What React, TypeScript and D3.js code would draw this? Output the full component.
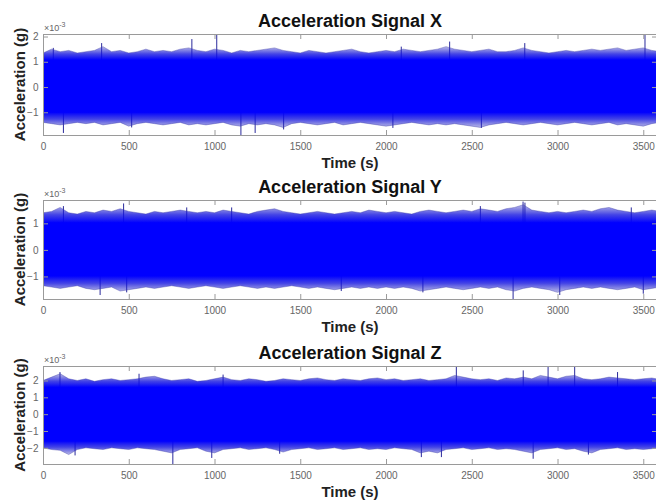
import React, { useEffect, useRef } from 'react';
import * as d3 from 'd3';

// envelope readings are taken every 50 s, values in 1e-3 g
const step = 50;

const titles = ['Acceleration Signal X', 'Acceleration Signal Y', 'Acceleration Signal Z'];
const timeTicks = [0, 500, 1000, 1500, 2000, 2500, 3000, 3500];

// signal X
const xUpper = [1.35, 1.5, 1.4, 1.45, 1.35, 1.4, 1.45, 1.6, 1.4, 1.45, 1.35, 1.4, 1.5, 1.4, 1.45, 1.4, 1.5, 1.55, 1.45, 1.4,
  1.5, 1.45, 1.35, 1.45, 1.4, 1.45, 1.5, 1.55, 1.45, 1.4, 1.35, 1.45, 1.4, 1.35, 1.4, 1.45, 1.5, 1.4, 1.35, 1.4,
  1.45, 1.4, 1.5, 1.45, 1.4, 1.45, 1.5, 1.6, 1.5, 1.45, 1.4, 1.45, 1.5, 1.4, 1.4, 1.45, 1.55, 1.45, 1.4, 1.35,
  1.4, 1.45, 1.4, 1.45, 1.5, 1.45, 1.5, 1.55, 1.45, 1.5, 1.55, 1.45, 1.4];
const xLower = [-1.4, -1.45, -1.5, -1.45, -1.4, -1.45, -1.4, -1.5, -1.45, -1.4, -1.55, -1.45, -1.4, -1.45, -1.5, -1.45, -1.4, -1.5, -1.45, -1.5,
  -1.45, -1.4, -1.5, -1.55, -1.45, -1.5, -1.45, -1.5, -1.6, -1.45, -1.4, -1.45, -1.5, -1.45, -1.4, -1.5, -1.45, -1.4, -1.45, -1.5,
  -1.55, -1.5, -1.45, -1.4, -1.45, -1.5, -1.45, -1.5, -1.45, -1.5, -1.55, -1.6, -1.5, -1.45, -1.4, -1.45, -1.5, -1.45, -1.4, -1.45,
  -1.5, -1.45, -1.4, -1.45, -1.5, -1.45, -1.4, -1.5, -1.45, -1.5, -1.55, -1.45, -1.4];
const xCore = [-1.0, 1.07];
const xSpikes = [[60, 1.55], [342, 1.74], [868, 1.9], [1013, 2.1], [2089, 1.6], [2371, 1.8], [2809, 1.74], [3510, 2.1],
  [119, -1.82], [517, -1.6], [1154, -1.9], [1237, -1.82], [1403, -1.68], [2040, -1.62], [2556, -1.62]];
const xYTicks = [-1, 0, 1, 2];

// signal Y
const yUpper = [1.4, 1.45, 1.6, 1.4, 1.35, 1.45, 1.4, 1.5, 1.45, 1.55, 1.45, 1.4, 1.35, 1.45, 1.4, 1.45, 1.5, 1.45, 1.4, 1.45,
  1.4, 1.5, 1.45, 1.4, 1.35, 1.45, 1.5, 1.55, 1.45, 1.4, 1.35, 1.4, 1.45, 1.4, 1.35, 1.4, 1.45, 1.4, 1.5, 1.45,
  1.4, 1.45, 1.4, 1.35, 1.45, 1.5, 1.45, 1.4, 1.45, 1.5, 1.45, 1.55, 1.5, 1.45, 1.55, 1.6, 1.7, 1.5, 1.45, 1.4,
  1.45, 1.4, 1.45, 1.5, 1.45, 1.55, 1.6, 1.5, 1.45, 1.4, 1.45, 1.5, 1.45];
const yLower = [-1.35, -1.4, -1.45, -1.4, -1.35, -1.45, -1.5, -1.45, -1.4, -1.55, -1.5, -1.45, -1.4, -1.45, -1.4, -1.35, -1.4, -1.45, -1.4, -1.35,
  -1.4, -1.45, -1.4, -1.35, -1.4, -1.45, -1.4, -1.45, -1.4, -1.35, -1.4, -1.45, -1.4, -1.45, -1.5, -1.45, -1.4, -1.45, -1.4, -1.45,
  -1.4, -1.45, -1.4, -1.45, -1.55, -1.5, -1.45, -1.4, -1.45, -1.5, -1.45, -1.4, -1.45, -1.4, -1.5, -1.55, -1.45, -1.4, -1.45, -1.5,
  -1.6, -1.5, -1.45, -1.4, -1.45, -1.4, -1.45, -1.5, -1.45, -1.4, -1.5, -1.45, -1.4];
const yCore = [-0.98, 1.02];
const ySpikes = [[119, 1.65], [470, 1.75], [838, 1.6], [1100, 1.6], [2550, 1.65], [2799, 1.82], [2810, 1.78], [3430, 1.6],
  [333, -1.7], [488, -1.6], [1739, -1.55], [2215, -1.6], [2741, -1.85], [3013, -1.7], [3500, -1.65]];
const yYTicks = [-1, 0, 1];

// signal Z
const zUpper = [2.0, 2.2, 2.4, 2.1, 2.0, 2.1, 1.95, 2.05, 2.1, 2.0, 2.05, 2.1, 2.2, 2.25, 2.1, 2.0, 2.05, 2.1, 1.95, 2.0,
  2.1, 2.2, 2.05, 2.0, 2.1, 2.05, 1.95, 2.0, 2.1, 2.05, 2.0, 2.1, 2.15, 2.05, 2.0, 2.1, 2.05, 2.0, 2.1, 2.15,
  2.05, 2.1, 2.0, 2.05, 2.1, 2.0, 2.05, 2.1, 2.3, 2.2, 2.1, 2.05, 2.1, 2.0, 2.15, 2.1, 2.2, 2.1, 2.3, 2.2,
  2.1, 2.25, 2.3, 2.1, 2.05, 2.1, 2.2, 2.15, 2.1, 2.05, 2.1, 2.15, 2.05];
const zLower = [-2.0, -2.1, -2.15, -2.4, -2.1, -2.0, -2.05, -2.1, -2.0, -2.05, -2.1, -2.0, -2.05, -2.1, -2.2, -2.3, -2.1, -2.05, -2.0, -2.2,
  -2.3, -2.1, -2.05, -2.0, -2.1, -2.05, -2.0, -2.1, -2.25, -2.1, -2.05, -2.0, -2.1, -2.05, -2.0, -2.1, -2.05, -2.0, -2.1, -2.05,
  -2.1, -2.0, -2.05, -2.1, -2.3, -2.2, -2.3, -2.1, -2.05, -2.0, -2.1, -2.05, -2.0, -2.1, -2.05, -2.1, -2.2, -2.3, -2.1, -2.05,
  -2.0, -2.1, -2.05, -2.2, -2.3, -2.1, -2.05, -2.0, -2.1, -2.05, -2.1, -2.05, -2.0];
const zCore = [-1.6, 1.6];
const zSpikes = [[99, 2.5], [560, 2.4], [1050, 2.35], [2410, 2.8], [2800, 2.6], [2945, 2.8], [3100, 2.86], [3350, 2.5],
  [187, -2.45], [757, -2.96], [984, -2.6], [1380, -2.35], [2206, -2.55], [2323, -2.55], [2858, -2.65], [3180, -2.4]];
const zYTicks = [-2, -1, 0, 1, 2];

const panels = [
  { title: titles[0], upper: xUpper, lower: xLower, core: xCore, spikes: xSpikes, ticks: xYTicks, ylim: [-1.9, 2.1], top: 34, bottom: 135 },
  { title: titles[1], upper: yUpper, lower: yLower, core: yCore, spikes: ySpikes, ticks: yYTicks, ylim: [-1.85, 1.88], top: 200, bottom: 299 },
  { title: titles[2], upper: zUpper, lower: zLower, core: zCore, spikes: zSpikes, ticks: zYTicks, ylim: [-2.96, 2.86], top: 366, bottom: 464 },
];

const font = '"Liberation Sans", Arial, Helvetica, sans-serif';

export default function App() {
  const ref = useRef<SVGSVGElement>(null);

  useEffect(() => {
    const svg = d3.select(ref.current);
    svg.selectAll('*').remove();
    const left = 43, right = 657;
    const defs = svg.append('defs');

    panels.forEach((p, i) => {
      const x = d3.scaleLinear().domain([0, 3580]).range([left, right]);
      const y = d3.scaleLinear().domain(p.ylim).range([p.bottom, p.top]);
      const times = p.upper.map((_, k) => k * step);

      defs.append('clipPath').attr('id', 'clip' + i)
        .append('rect').attr('x', left).attr('y', p.top)
        .attr('width', right - left).attr('height', p.bottom - p.top);

      // fringe fades out from the solid core towards the envelope
      const fade = (id: string, from: number, to: number) => {
        const gr = defs.append('linearGradient').attr('id', id)
          .attr('gradientUnits', 'userSpaceOnUse')
          .attr('x1', 0).attr('x2', 0).attr('y1', y(from)).attr('y2', y(to));
        gr.append('stop').attr('offset', 0).attr('stop-color', '#0000ff').attr('stop-opacity', 1);
        gr.append('stop').attr('offset', 0.45).attr('stop-color', '#1515e0').attr('stop-opacity', 0.8);
        gr.append('stop').attr('offset', 1).attr('stop-color', '#3434c0').attr('stop-opacity', 0.35);
      };
      const topMax = d3.max(p.upper) as number;
      const botMin = d3.min(p.lower) as number;
      fade('fadeUp' + i, p.core[1], topMax);
      fade('fadeDown' + i, p.core[0], botMin);

      const plot = svg.append('g').attr('clip-path', `url(#clip${i})`);

      // spikes from the band edge to their peak
      plot.append('path')
        .attr('d', p.spikes.map(s => `M${x(s[0])},${y(s[1] > 0 ? p.core[1] : p.core[0])}V${y(s[1])}`).join(''))
        .attr('stroke', '#2a2a9c')
        .attr('stroke-width', 1)
        .attr('fill', 'none');

      const upArea = d3.area<number>()
        .x((_, k) => x(times[k]))
        .y0(y(0))
        .y1(d => y(d));
      const downArea = d3.area<number>()
        .x((_, k) => x(times[k]))
        .y0(y(0))
        .y1(d => y(d));
      const edge = d3.line<number>()
        .x((_, k) => x(times[k]))
        .y(d => y(d));

      plot.append('path').datum(p.upper).attr('d', upArea).attr('fill', `url(#fadeUp${i})`);
      plot.append('path').datum(p.lower).attr('d', downArea).attr('fill', `url(#fadeDown${i})`);
      [p.upper, p.lower].forEach(env => {
        plot.append('path').datum(env).attr('d', edge)
          .attr('fill', 'none').attr('stroke', '#3a3aa6')
          .attr('stroke-width', 0.7).attr('stroke-opacity', 0.55);
      });

      plot.append('rect')
        .attr('x', left).attr('width', right - left)
        .attr('y', y(p.core[1])).attr('height', y(p.core[0]) - y(p.core[1]))
        .attr('fill', '#0000ff');

      // axes
      const style = (g: any) => {
        g.select('.domain').remove();
        g.selectAll('line').attr('stroke', '#9a9a9a');
        g.selectAll('text').attr('fill', '#666').attr('font-size', 10).attr('font-family', font);
      };
      svg.append('g').attr('transform', `translate(0,${p.bottom})`)
        .call(d3.axisBottom(x).tickValues(timeTicks).tickSizeInner(-5).tickSizeOuter(0).tickPadding(7.5).tickFormat(d3.format('d')))
        .call(style);
      svg.append('g').attr('transform', `translate(0,${p.top})`)
        .call(d3.axisTop(x).tickValues(timeTicks).tickSizeInner(-5).tickSizeOuter(0).tickFormat(() => ''))
        .call(style);
      svg.append('g').attr('transform', `translate(${left},0)`)
        .call(d3.axisLeft(y).tickValues(p.ticks).tickSizeInner(-5).tickSizeOuter(0).tickPadding(4.5).tickFormat(d3.format('d')))
        .call(style);
      svg.append('g').attr('transform', `translate(${right},0)`)
        .call(d3.axisRight(y).tickValues(p.ticks).tickSizeInner(-5).tickSizeOuter(0).tickFormat(() => ''))
        .call(style);

      svg.append('rect')
        .attr('x', left + 0.5).attr('y', p.top + 0.5)
        .attr('width', right - left - 1).attr('height', p.bottom - p.top)
        .attr('fill', 'none').attr('stroke', '#9a9a9a');

      const exp = svg.append('text')
        .attr('x', left + 1).attr('y', p.top - 3)
        .attr('font-size', 9).attr('fill', '#666').attr('font-family', font)
        .text('\u00d710');
      exp.append('tspan').attr('font-size', 7).attr('dy', -4).text('-3');

      svg.append('text')
        .attr('x', (left + right) / 2).attr('y', p.top - 7)
        .attr('text-anchor', 'middle')
        .attr('font-size', 18).attr('font-weight', 'bold').attr('font-family', font)
        .attr('fill', '#111')
        .text(p.title);

      svg.append('text')
        .attr('x', (left + right) / 2).attr('y', p.bottom + 32.5)
        .attr('text-anchor', 'middle')
        .attr('font-size', 15).attr('font-weight', 'bold').attr('font-family', font)
        .attr('fill', '#222')
        .text('Time (s)');

      svg.append('text')
        .attr('transform', `translate(25,${(p.top + p.bottom) / 2}) rotate(-90)`)
        .attr('text-anchor', 'middle')
        .attr('font-size', 15).attr('font-weight', 'bold').attr('font-family', font)
        .attr('fill', '#222')
        .text('Acceleration (g)');
    });
  }, []);

  return (
    <svg ref={ref} width={656} height={501}
      style={{ position: 'absolute', left: 0, top: 0, background: '#fff' }} />
  );
}
